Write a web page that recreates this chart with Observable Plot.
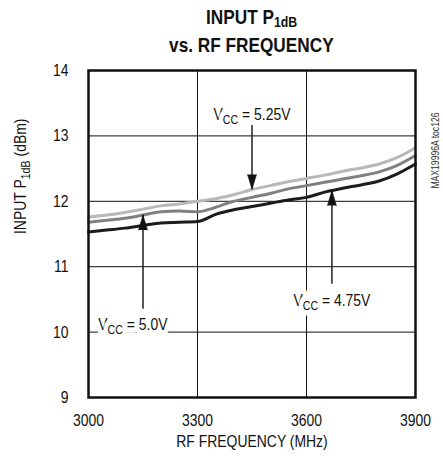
<!DOCTYPE html>
<html>
<head>
<meta charset="utf-8">
<script src="https://cdn.jsdelivr.net/npm/d3@7"></script>
<script src="https://cdn.jsdelivr.net/npm/@observablehq/plot@0.6"></script>
<style>
  body { margin: 0; background: white; }
  #wrap { width: 443px; height: 456px; position: relative; font-family: "Liberation Sans", Arial, sans-serif; }
  #title { box-sizing: border-box; width: 443px; height: 56px; padding: 3px 28px 0 88px; text-align: center; font-weight: bold; font-size: 21px; line-height: 28px; color: #111; }
  #title span { display: inline-block; transform: scaleX(0.82); transform-origin: 50% 50%; white-space: nowrap; }
  #title sub { font-size: 15px; line-height: 0; vertical-align: -3px; }
</style>
</head>
<body>
<div id="wrap">
  <div id="title"><span>INPUT P<sub>1dB</sub></span><br><span>vs. RF FREQUENCY</span></div>
  <div id="chart"></div>
</div>
<script>
// RF frequency (MHz)
const freq = [3000, 3050, 3100, 3150, 3200, 3250, 3300, 3350, 3400, 3450, 3500, 3550, 3600, 3650, 3700, 3750, 3800, 3850, 3900];
// Input P1dB (dBm) per supply voltage
const vcc525 = [11.76, 11.79, 11.83, 11.88, 11.93, 11.96, 12.00, 12.04, 12.10, 12.18, 12.24, 12.30, 12.35, 12.40, 12.46, 12.51, 12.57, 12.67, 12.82];
const vcc500 = [11.68, 11.71, 11.74, 11.79, 11.84, 11.85, 11.84, 11.91, 12.00, 12.06, 12.12, 12.19, 12.24, 12.29, 12.34, 12.39, 12.45, 12.55, 12.70];
const vcc475 = [11.53, 11.56, 11.59, 11.63, 11.67, 11.68, 11.69, 11.80, 11.87, 11.92, 11.97, 12.02, 12.06, 12.14, 12.20, 12.25, 12.31, 12.42, 12.57];
const seriesNames = ["5.25V", "5.0V", "4.75V"];
const seriesValues = [vcc525, vcc500, vcc475];
const seriesColors = ["#b8b8b8", "#808080", "#1c1c1c"];

const xTicks = [3000, 3300, 3600, 3900];
const yTicks = [9, 10, 11, 12, 13, 14];

// annotations (data units)
const labelText = ["V_{CC} = 5.25V", "V_{CC} = 5.0V", "V_{CC} = 4.75V"];
const labelFreq = [3450, 3122, 3670];
const labelLevel = [13.33, 10.12, 10.48];
const arrowFreq = [3450, 3150, 3670];
const arrowTail = [13.16, 10.35, 10.73];

const xLabel = "RF FREQUENCY (MHz)";
const yLabel = "INPUT P_{1dB} (dBm)";
const codeLabel = "MAX19996A toc126";

const rows = [];
seriesNames.forEach((s, i) => freq.forEach((f, j) => rows.push({series: s, freq: f, value: seriesValues[i][j]})));

function valueAt(vals, f) {
  for (let j = 0; j < freq.length - 1; j++) {
    if (f >= freq[j] && f <= freq[j + 1]) {
      const t = (f - freq[j]) / (freq[j + 1] - freq[j]);
      return vals[j] + t * (vals[j + 1] - vals[j]);
    }
  }
  return vals[vals.length - 1];
}
const arrows = seriesNames.map((s, i) => {
  const tip = valueAt(seriesValues[i], arrowFreq[i]);
  return {freq: arrowFreq[i], tip, tail: arrowTail[i], rot: arrowTail[i] > tip ? 180 : 0};
});
const labels = labelText.map((t, i) => ({text: t, freq: labelFreq[i], level: labelLevel[i]}));

const FONT = '"Liberation Sans", Arial, sans-serif';

const plot = Plot.plot({
  width: 443,
  height: 400,
  marginTop: 14,
  marginBottom: 59,
  marginLeft: 88,
  marginRight: 28,
  style: {fontFamily: FONT, fontSize: "17px", color: "#111", background: "white", overflow: "visible"},
  x: {domain: [3000, 3900]},
  y: {domain: [9, 14]},
  marks: [
    Plot.gridX(xTicks, {stroke: "#111", strokeOpacity: 1, strokeWidth: 1}),
    Plot.gridY(yTicks, {stroke: "#111", strokeOpacity: 1, strokeWidth: 1}),
    Plot.line(rows, {x: "freq", y: "value", z: "series", stroke: d => seriesColors[seriesNames.indexOf(d.series)], strokeWidth: 3, curve: "monotone-x"}),
    Plot.text(labels, {x: "freq", y: "level", text: "text", fontSize: 17, fill: "#111", stroke: "white", strokeWidth: 11, paintOrder: "stroke"}),
    Plot.ruleX(arrows, {x: "freq", y1: "tip", y2: "tail", stroke: "#111", strokeWidth: 1.4}),
    Plot.vector(arrows, {x: "freq", y: "tip", length: 15, r: 4.5, rotate: "rot", anchor: "end", shape: "spike", fill: "#111", stroke: "#111", strokeWidth: 0.5}),
    Plot.frame({stroke: "#111", strokeWidth: 2.5}),
    Plot.axisX(xTicks, {tickSize: 0, tickPadding: 16, label: null, fontSize: 17, tickFormat: d => `${d}`}),
    Plot.axisY(yTicks, {tickSize: 0, tickPadding: 20, label: null, fontSize: 17, tickFormat: d => `${d}`}),
    Plot.text([xLabel], {frameAnchor: "bottom", dy: 49, fontSize: 17, fill: "#111"}),
    Plot.text([yLabel], {frameAnchor: "left", dx: -68, rotate: -90, fontSize: 17, fill: "#111"}),
    Plot.text([codeLabel], {frameAnchor: "top-right", dx: 16, dy: 42, rotate: -90, fontSize: 10.5, fill: "#333"})
  ]
});

function applySubscripts(svg) {
  svg.querySelectorAll("text").forEach(t => {
    const s = t.textContent;
    if (!s.includes("_{")) return;
    t.textContent = "";
    const parts = s.split(/(_\{[^}]*\})/);
    let shifted = false;
    for (const p of parts) {
      if (!p) continue;
      const ts = document.createElementNS("http://www.w3.org/2000/svg", "tspan");
      if (p.startsWith("_{")) {
        ts.textContent = p.slice(2, -1);
        ts.setAttribute("font-size", "13");
        ts.setAttribute("dy", "4");
        shifted = true;
      } else {
        ts.textContent = p;
        if (shifted) { ts.setAttribute("dy", "-4"); shifted = false; }
      }
      t.appendChild(ts);
    }
  });
}
// condensed lettering, like the original's narrow typeface
function condense(svg, k) {
  svg.querySelectorAll("text").forEach(t => {
    const tr = t.getAttribute("transform") || "";
    t.setAttribute("transform", `${tr} scale(${k},1)`.trim());
  });
}
applySubscripts(plot);
condense(plot, 0.82);
document.getElementById("chart").appendChild(plot);
</script>
</body>
</html>
